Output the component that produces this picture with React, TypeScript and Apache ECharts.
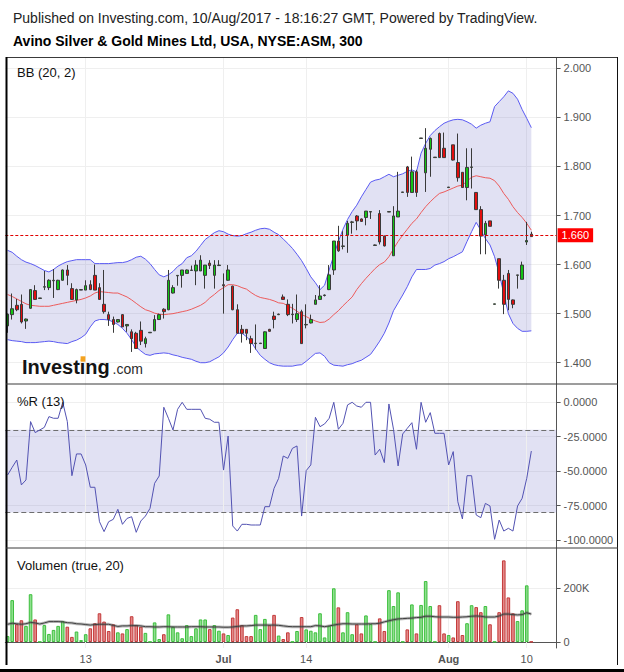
import React, { useEffect, useRef } from 'react';
import * as echarts from 'echarts';

const TITLE_LINE_1 = 'Published on Investing.com, 10/Aug/2017 - 18:16:27 GMT, Powered by TradingView.';
const TITLE_LINE_2 = 'Avino Silver & Gold Mines Ltd, USA, NYSE:ASM, 300';
const PANEL_LABELS = ['BB (20, 2)', '%R (13)', 'Volumen (true, 20)'];

const SLOT_COUNT = 120;

const candleOpen = [
  1.475, 1.498, 1.517, 1.519, 1.485, 1.511, 1.547, 1.531, 1.554, 1.553,
  1.567, 1.549, 1.568, 1.589, 1.551, 1.528, 1.548, 1.548, 1.559, 1.578,
  1.553, 1.519, 1.498, 1.488, 1.483, 1.498, 1.475, 1.463, 1.460, 1.466,
  1.439, 1.461, 1.465, 1.488, 1.509, 1.508, 1.542, 1.577, 1.578, 1.582,
  1.588, 1.587, 1.587, 1.578, 1.603, 1.578, 1.598, 1.559, 1.568, 1.556,
  1.508, 1.468, 1.468, 1.449, 1.439, 1.439, 1.429, 1.468, 1.495, 1.498,
  1.534, 1.519, 1.498, 1.488, 1.504, 1.477, 1.481, 1.519, 1.529, 1.537,
  1.549, 1.589, 1.648, 1.637, 1.660, 1.686, 1.699, 1.693, 1.696, 1.707,
  1.639, 1.704, 1.658, 1.707, 1.618, 1.697, 1.747, 1.799, 1.747, 1.789,
  1.857, 1.787, 1.835, 1.818, 1.867, 1.837, 1.757, 1.844, 1.808, 1.788,
  1.757, 1.798, 1.747, 1.712, 1.661, 1.689, 1.519, 1.612, 1.568, 1.582,
  1.528, 1.578, 1.570, 1.646, 1.662,
];
const candleClose = [
  1.499, 1.510, 1.508, 1.483, 1.489, 1.549, 1.529, 1.532, 1.555, 1.568,
  1.568, 1.568, 1.589, 1.578, 1.529, 1.549, 1.549, 1.557, 1.549, 1.548,
  1.529, 1.504, 1.488, 1.478, 1.488, 1.473, 1.478, 1.449, 1.429, 1.444,
  1.449, 1.462, 1.488, 1.498, 1.504, 1.568, 1.553, 1.578, 1.589, 1.589,
  1.589, 1.599, 1.609, 1.599, 1.598, 1.599, 1.599, 1.557, 1.589, 1.508,
  1.460, 1.460, 1.460, 1.439, 1.440, 1.440, 1.463, 1.464, 1.488, 1.499,
  1.529, 1.498, 1.499, 1.500, 1.439, 1.478, 1.488, 1.528, 1.536, 1.538,
  1.579, 1.648, 1.628, 1.638, 1.684, 1.687, 1.689, 1.688, 1.709, 1.708,
  1.640, 1.646, 1.638, 1.708, 1.699, 1.709, 1.748, 1.747, 1.789, 1.747,
  1.858, 1.837, 1.857, 1.819, 1.818, 1.818, 1.758, 1.813, 1.777, 1.757,
  1.798, 1.799, 1.712, 1.658, 1.684, 1.678, 1.520, 1.568, 1.519, 1.529,
  1.519, 1.579, 1.599, 1.649, 1.657,
];
const candleLow = [
  1.461, 1.488, 1.505, 1.480, 1.469, 1.510, 1.528, 1.530, 1.548, 1.548,
  1.532, 1.548, 1.567, 1.558, 1.528, 1.521, 1.548, 1.548, 1.548, 1.548,
  1.528, 1.500, 1.475, 1.461, 1.482, 1.473, 1.463, 1.422, 1.428, 1.436,
  1.431, 1.461, 1.465, 1.487, 1.490, 1.507, 1.541, 1.557, 1.553, 1.582,
  1.587, 1.558, 1.587, 1.551, 1.591, 1.551, 1.597, 1.500, 1.567, 1.507,
  1.460, 1.441, 1.446, 1.420, 1.427, 1.439, 1.428, 1.463, 1.470, 1.497,
  1.528, 1.495, 1.480, 1.483, 1.439, 1.470, 1.480, 1.519, 1.528, 1.535,
  1.548, 1.579, 1.626, 1.631, 1.624, 1.663, 1.670, 1.687, 1.680, 1.693,
  1.639, 1.641, 1.637, 1.707, 1.618, 1.697, 1.747, 1.738, 1.747, 1.738,
  1.857, 1.748, 1.779, 1.818, 1.818, 1.818, 1.757, 1.812, 1.769, 1.757,
  1.731, 1.755, 1.712, 1.621, 1.621, 1.678, 1.519, 1.551, 1.499, 1.507,
  1.511, 1.551, 1.570, 1.640, 1.657,
];
const candleHigh = [
  1.500, 1.541, 1.530, 1.539, 1.490, 1.550, 1.558, 1.532, 1.587, 1.570,
  1.591, 1.569, 1.590, 1.599, 1.562, 1.551, 1.550, 1.568, 1.568, 1.600,
  1.562, 1.589, 1.504, 1.494, 1.489, 1.499, 1.478, 1.468, 1.463, 1.484,
  1.453, 1.462, 1.497, 1.500, 1.511, 1.589, 1.558, 1.578, 1.589, 1.590,
  1.598, 1.609, 1.619, 1.599, 1.609, 1.609, 1.609, 1.582, 1.599, 1.557,
  1.519, 1.477, 1.468, 1.455, 1.478, 1.440, 1.464, 1.469, 1.504, 1.500,
  1.539, 1.529, 1.520, 1.539, 1.508, 1.519, 1.498, 1.538, 1.558, 1.539,
  1.599, 1.648, 1.679, 1.668, 1.689, 1.689, 1.701, 1.694, 1.709, 1.708,
  1.641, 1.711, 1.659, 1.709, 1.719, 1.789, 1.748, 1.801, 1.820, 1.793,
  1.858, 1.878, 1.859, 1.819, 1.869, 1.869, 1.758, 1.844, 1.867, 1.788,
  1.837, 1.837, 1.747, 1.719, 1.689, 1.689, 1.520, 1.612, 1.579, 1.589,
  1.529, 1.579, 1.606, 1.687, 1.667,
];

const bbUpper = [
  1.629, 1.625, 1.617, 1.610, 1.605, 1.602, 1.598, 1.593, 1.588, 1.585,
  1.590, 1.597, 1.602, 1.606, 1.608, 1.610, 1.610, 1.610, 1.610, 1.602,
  1.602, 1.602, 1.602, 1.603, 1.604, 1.604, 1.606, 1.610, 1.615, 1.617,
  1.611, 1.602, 1.590, 1.579, 1.575, 1.579, 1.586, 1.596, 1.602, 1.614,
  1.618, 1.627, 1.639, 1.651, 1.658, 1.665, 1.669, 1.667, 1.662, 1.659,
  1.658, 1.659, 1.663, 1.666, 1.670, 1.673, 1.674, 1.672, 1.666, 1.661,
  1.652, 1.643, 1.633, 1.621, 1.608, 1.592, 1.575, 1.563, 1.549, 1.558,
  1.589, 1.619, 1.647, 1.672, 1.692, 1.708, 1.721, 1.738, 1.753, 1.768,
  1.772, 1.774, 1.779, 1.784, 1.779, 1.782, 1.785, 1.790, 1.793, 1.789,
  1.827, 1.847, 1.863, 1.873, 1.881, 1.888, 1.892, 1.895, 1.896, 1.895,
  1.891, 1.886, 1.878, 1.884, 1.888, 1.891, 1.922, 1.932, 1.942, 1.954,
  1.949, 1.937, 1.916, 1.898, 1.879,
];
const bbMiddle = [
  1.539, 1.535, 1.530, 1.525, 1.520, 1.517, 1.516, 1.515, 1.515, 1.515,
  1.517, 1.519, 1.521, 1.523, 1.525, 1.527, 1.529, 1.532, 1.536, 1.542,
  1.545, 1.544, 1.543, 1.542, 1.542, 1.538, 1.534, 1.528, 1.521, 1.514,
  1.508, 1.505, 1.501, 1.499, 1.498, 1.499, 1.500, 1.502, 1.504, 1.506,
  1.509, 1.513, 1.517, 1.523, 1.532, 1.539, 1.547, 1.553, 1.559, 1.559,
  1.557, 1.553, 1.550, 1.543, 1.537, 1.533, 1.531, 1.529, 1.526, 1.522,
  1.521, 1.516, 1.511, 1.505, 1.498, 1.494, 1.489, 1.485, 1.482, 1.483,
  1.489, 1.498, 1.506, 1.516, 1.525, 1.534, 1.549, 1.561, 1.572, 1.582,
  1.592, 1.600, 1.605, 1.616, 1.632, 1.647, 1.660, 1.672, 1.684, 1.693,
  1.706, 1.718, 1.728, 1.737, 1.745, 1.748, 1.752, 1.756, 1.760, 1.762,
  1.770, 1.778, 1.781, 1.779, 1.777, 1.776, 1.771, 1.760, 1.745, 1.733,
  1.718, 1.706, 1.696, 1.684, 1.670,
];
const bbLower = [
  1.447, 1.445, 1.444, 1.443, 1.441, 1.441, 1.441, 1.442, 1.443, 1.444,
  1.443, 1.441, 1.440, 1.439, 1.443, 1.446, 1.451, 1.458, 1.473, 1.485,
  1.488, 1.488, 1.487, 1.483, 1.478, 1.470, 1.460, 1.447, 1.432, 1.424,
  1.417, 1.415, 1.418, 1.419, 1.420, 1.419, 1.416, 1.414, 1.411, 1.409,
  1.407, 1.403, 1.400, 1.400, 1.402, 1.407, 1.412, 1.420, 1.432, 1.447,
  1.460, 1.460, 1.453, 1.443, 1.428, 1.415, 1.407, 1.400, 1.396, 1.394,
  1.393, 1.393, 1.393, 1.395, 1.396, 1.403, 1.411, 1.419, 1.420, 1.413,
  1.400, 1.395, 1.394, 1.393, 1.396, 1.398, 1.402, 1.405, 1.411, 1.417,
  1.430, 1.444, 1.460, 1.481, 1.506, 1.522, 1.538, 1.555, 1.575, 1.590,
  1.590, 1.590, 1.592, 1.599, 1.602, 1.606, 1.612, 1.616, 1.621, 1.626,
  1.647, 1.667, 1.686, 1.670, 1.653, 1.640, 1.616, 1.582, 1.541, 1.500,
  1.480, 1.470, 1.464, 1.464, 1.465,
];

const williamsR = [
  -52.8, -47.2, -41.9, -60.0, -56.4, -14.0, -22.0, -20.1, -18.2, -10.4,
  -11.6, -11.6, 0, -14.0, -53.3, -37.5, -37.5, -45.5, -61.7, -61.7,
  -86.7, -93.9, -86.7, -85.0, -77.7, -88.6, -84.3, -83.1, -94.4, -86.2,
  -82.6, -77.0, -58.8, -53.5, -3.6, -11.6, -20.1, -5.1, 0, -5.1,
  -5.1, -5.1, -5.1, -11.6, -12.3, -14.5, -14.5, -49.2, -24.5, -89.8,
  -93.5, -88.6, -88.6, -89.1, -89.1, -89.1, -75.8, -75.8, -62.5, -55.2,
  -39.0, -40.7, -33.4, -31.7, -82.6, -49.6, -45.5, -10.9, -17.7, -15.7,
  -11.6, 0, -19.6, -15.3, -1.9, 0, -2.7, -3.6, 0, 0,
  -38.3, -34.1, -43.8, -1.2, -19.6, -46.2, -23.0, -18.9, -14.8, -34.1,
  0, -14.5, -7.5, -22.5, -22.5, -22.5, -45.5, -35.8, -72.2, -84.7,
  -53.3, -53.3, -81.8, -83.8, -73.4, -75.3, -99.5, -85.5, -93.5, -91.5,
  -93.5, -75.3, -69.7, -55.2, -35.4,
];

const volume = [
  22000, 156000, 67000, 81000, 60000, 178000, 84000, 1000, 63000, 30000,
  45000, 60000, 78000, 57000, 19000, 39000, 7000, 29000, 51000, 70000,
  107000, 76000, 41000, 66000, 36000, 32000, 48000, 96000, 63000, 57000,
  34000, 1000, 73000, 11000, 29000, 103000, 57000, 36000, 14000, 63000,
  22000, 51000, 84000, 84000, 48000, 63000, 42000, 32000, 26000, 91000,
  122000, 63000, 22000, 22000, 101000, 48000, 86000, 63000, 101000, 24000,
  11000, 36000, 1000, 41000, 93000, 47000, 42000, 36000, 107000, 17000,
  60000, 200000, 129000, 36000, 111000, 29000, 66000, 32000, 99000, 67000,
  1000, 88000, 41000, 193000, 134000, 185000, 1000, 47000, 140000, 32000,
  138000, 227000, 134000, 1000, 137000, 32000, 26000, 17000, 152000, 26000,
  70000, 137000, 130000, 111000, 134000, 66000, 1000, 111000, 304000, 166000,
  107000, 78000, 118000, 211000, 1000,
];
const volumeMA = [
  66000, 70000, 68000, 66000, 68000, 73000, 71000, 67000, 71000, 76000,
  76000, 76000, 75000, 72000, 71000, 68000, 67000, 65000, 63000, 65000,
  66000, 66000, 66000, 62000, 58000, 60000, 60000, 61000, 61000, 60000,
  57000, 57000, 56000, 56000, 57000, 57000, 56000, 56000, 56000, 56000,
  57000, 57000, 57000, 56000, 56000, 56000, 56000, 55000, 55000, 56000,
  58000, 60000, 60000, 61000, 63000, 63000, 63000, 63000, 63000, 62000,
  60000, 58000, 57000, 57000, 57000, 57000, 57000, 61000, 60000, 57000,
  60000, 63000, 66000, 68000, 68000, 67000, 67000, 67000, 67000, 68000,
  68000, 70000, 75000, 79000, 83000, 86000, 87000, 88000, 89000, 91000,
  92000, 96000, 96000, 94000, 93000, 93000, 93000, 92000, 92000, 93000,
  94000, 96000, 97000, 96000, 93000, 93000, 93000, 97000, 104000, 104000,
  102000, 101000, 102000, 109000, 104000,
];

const dateTickIndex = [17, 47, 65, 96, 113];
const dateTickText = ['13', 'Jul', '14', 'Aug', '10'];
const monthTickText = ['Jul', 'Aug'];
const priceTicks = [1.4, 1.5, 1.6, 1.7, 1.8, 1.9, 2.0];
const pctRTicks = [-100, -75, -50, -25, 0];
const volumeTicks = [0, 200000];
const pctRBand = [-20, -80];
const lastPrice = 1.66;

const PRICE_RANGE = [1.35663, 2.022];
const PCTR_RANGE = [-105.8, 13.29];
const VOLUME_RANGE = [-22350, 350100];

const FONT = '"Liberation Sans", Arial, Helvetica, sans-serif';
const AXIS_COLOR = '#555555';
const LABEL_COLOR = '#555555';
const GRID_COLOR = '#efefef';
const BAND_FILL = 'rgba(120,120,200,0.22)';

export default function App() {
  const ref = useRef<HTMLDivElement>(null);

  useEffect(() => {
    if (!ref.current) return;
    const chart = echarts.init(ref.current, undefined, { renderer: 'svg' });

    const categories = Array.from({ length: SLOT_COUNT }, (_, i) => String(i));
    const isDateTick = (i: number) => dateTickIndex.indexOf(Number(i)) >= 0;
    const candleData = candleOpen.map((o, i) => [o, candleClose[i], candleLow[i], candleHigh[i]]);
    const bbSpread = bbUpper.map((u, i) => +(u - bbLower[i]).toFixed(4));
    const volumeData = volume.map((v, i) => {
      const up = candleClose[i] >= candleOpen[i];
      return {
        value: v,
        itemStyle: {
          color: up ? 'rgba(20,190,20,0.48)' : 'rgba(200,20,20,0.5)',
          borderColor: up ? '#3cbf3c' : '#c43a3a',
        },
      };
    });
    const onTick = (ticks: number[]) => (v: number) => ticks.some((t) => Math.abs(t - v) < 1e-6);

    const gridMarkLine = {
      silent: true,
      z: 1,
      symbol: ['none', 'none'],
      label: { show: false },
      lineStyle: { color: GRID_COLOR, type: 'solid', width: 1 },
      emphasis: { disabled: true },
      data: dateTickIndex.map((i) => ({ xAxis: i })),
    };

    const grids = [
      { left: 5.3, right: 67.4, top: 57.5, height: 326.5 },
      { left: 5.3, right: 67.4, top: 384, height: 164 },
      { left: 5.3, right: 67.4, top: 548, height: 100 },
    ].map((g) => ({ ...g, containLabel: false, outerBoundsMode: 'none', show: false }));

    const hiddenX = (gridIndex: number) => ({
      type: 'category',
      gridIndex,
      data: categories,
      boundaryGap: true,
      axisLine: { show: false },
      axisTick: { show: false },
      axisLabel: { show: false },
      splitLine: { show: false },
    });

    const valueAxis = (gridIndex: number, range: number[], ticks: number[], interval: number, fmt: (v: number) => string) => {
      const ok = onTick(ticks);
      return {
        type: 'value',
        gridIndex,
        position: 'right',
        min: range[0],
        max: range[1],
        splitNumber: Math.round((range[1] - range[0]) / interval),
        minInterval: interval,
        maxInterval: interval,
        axisLine: { show: true, onZero: false, lineStyle: { color: AXIS_COLOR, width: 1 } },
        axisTick: { show: true, length: 4, lineStyle: { color: AXIS_COLOR }, customValues: ticks },
        axisLabel: {
          show: true,
          customValues: ticks,
          color: LABEL_COLOR,
          fontSize: 11,
          fontFamily: FONT,
          margin: 7,
          formatter: (v: number) => (ok(v) ? fmt(v) : ''),
        },
        splitLine: { show: true, lineStyle: { color: GRID_COLOR, width: 1 } },
      };
    };

    const textEl = (text: string, x: number, y: number, font: string, fill: string) => ({
      type: 'text',
      x,
      y,
      z: 20,
      silent: true,
      style: { text, font, fill, verticalAlign: 'middle', textVerticalAlign: 'middle', align: 'left', textAlign: 'left' },
    });
    const lineEl = (x1: number, y1: number, x2: number, y2: number, stroke: string, lineWidth: number) => ({
      type: 'line',
      z: 20,
      silent: true,
      shape: { x1, y1, x2, y2 },
      style: { stroke, lineWidth },
    });

    const option: any = {
      animation: false,
      backgroundColor: '#ffffff',
      grid: grids,
      xAxis: [
        hiddenX(0),
        hiddenX(1),
        {
          type: 'category',
          gridIndex: 2,
          data: categories,
          boundaryGap: true,
          axisLine: { show: true, lineStyle: { color: AXIS_COLOR, width: 1 } },
          axisTick: { show: true, alignWithLabel: true, interval: (i: number) => isDateTick(i), length: 4, lineStyle: { color: AXIS_COLOR } },
          axisLabel: {
            show: true,
            interval: (i: number) => isDateTick(i),
            color: LABEL_COLOR,
            fontSize: 11,
            fontFamily: FONT,
            margin: 5,
            formatter: (v: string) => {
              const k = dateTickIndex.indexOf(Number(v));
              if (k < 0) return '';
              const t = dateTickText[k];
              return monthTickText.indexOf(t) >= 0 ? `{m|${t}}` : t;
            },
            rich: { m: { fontWeight: 'bold', fontSize: 11, color: LABEL_COLOR, fontFamily: FONT } },
          },
          splitLine: { show: false },
        },
      ],
      yAxis: [
        valueAxis(0, PRICE_RANGE, priceTicks, 0.1, (v) => v.toFixed(3)),
        valueAxis(1, PCTR_RANGE, pctRTicks, 25, (v) => v.toFixed(4)),
        valueAxis(2, VOLUME_RANGE, volumeTicks, 200000, (v) => (v === 0 ? '0' : `${Math.round(v / 1000)}K`)),
      ],
      series: [
        { type: 'line', xAxisIndex: 0, yAxisIndex: 0, data: [], symbol: 'none', silent: true, markLine: gridMarkLine },
        { type: 'line', xAxisIndex: 1, yAxisIndex: 1, data: [], symbol: 'none', silent: true, markLine: gridMarkLine },
        { type: 'line', xAxisIndex: 2, yAxisIndex: 2, data: [], symbol: 'none', silent: true, markLine: gridMarkLine },
        {
          name: 'bbBase', type: 'line', xAxisIndex: 0, yAxisIndex: 0, data: bbLower, stack: 'bb',
          symbol: 'none', silent: true, lineStyle: { opacity: 0 }, z: 2,
        },
        {
          name: 'bbFill', type: 'line', xAxisIndex: 0, yAxisIndex: 0, data: bbSpread, stack: 'bb',
          symbol: 'none', silent: true, lineStyle: { opacity: 0 }, areaStyle: { color: BAND_FILL, opacity: 1 }, z: 2,
        },
        { name: 'upper', type: 'line', xAxisIndex: 0, yAxisIndex: 0, data: bbUpper, symbol: 'none', silent: true, lineStyle: { color: '#5a5af2', width: 1 }, z: 3 },
        { name: 'lower', type: 'line', xAxisIndex: 0, yAxisIndex: 0, data: bbLower, symbol: 'none', silent: true, lineStyle: { color: '#5a5af2', width: 1 }, z: 3 },
        { name: 'basis', type: 'line', xAxisIndex: 0, yAxisIndex: 0, data: bbMiddle, symbol: 'none', silent: true, lineStyle: { color: '#ec5b5b', width: 1 }, z: 3 },
        {
          name: 'ASM', type: 'candlestick', xAxisIndex: 0, yAxisIndex: 0, data: candleData, barWidth: 3, z: 4, clip: false, silent: true,
          itemStyle: { color: '#14c414', color0: '#e20e0e', borderColor: '#3a3a3a', borderColor0: '#3a3a3a', borderWidth: 1 },
          markLine: {
            silent: true,
            z: 6,
            symbol: ['none', 'none'],
            data: [{ yAxis: lastPrice }],
            lineStyle: { color: '#e00000', type: [3, 2], width: 1 },
            label: {
              show: true, position: 'end', distance: 1, formatter: lastPrice.toFixed(3),
              color: '#ffffff', backgroundColor: '#ff0000', padding: [2, 4, 1, 4], fontSize: 11, fontFamily: FONT,
            },
            emphasis: { disabled: true },
          },
        },
        {
          name: '%R', type: 'line', xAxisIndex: 1, yAxisIndex: 1, data: williamsR, symbol: 'none', silent: true,
          lineStyle: { color: '#5252b2', width: 1 }, z: 4,
          markArea: { silent: true, z: 1, itemStyle: { color: BAND_FILL }, data: [[{ yAxis: pctRBand[0] }, { yAxis: pctRBand[1] }]] },
          markLine: {
            silent: true, z: 3, symbol: ['none', 'none'], label: { show: false },
            lineStyle: { color: '#6e6e6e', type: [5, 3], width: 1 },
            emphasis: { disabled: true },
            data: pctRBand.map((v) => ({ yAxis: v })),
          },
        },
        { name: 'Volume', type: 'bar', xAxisIndex: 2, yAxisIndex: 2, data: volumeData, barWidth: 3.6, silent: true, z: 2, itemStyle: { borderWidth: 1 } },
        { name: 'VolMAglow', type: 'line', xAxisIndex: 2, yAxisIndex: 2, data: volumeMA, symbol: 'none', silent: true, lineStyle: { color: 'rgba(80,80,80,0.4)', width: 3 }, z: 3 },
        { name: 'VolMA', type: 'line', xAxisIndex: 2, yAxisIndex: 2, data: volumeMA, symbol: 'none', silent: true, lineStyle: { color: '#404040', width: 1 }, z: 4 },
      ],
      graphic: [
        textEl(TITLE_LINE_1, 13, 17.5, `14px ${FONT}`, '#222222'),
        textEl(TITLE_LINE_2, 13, 40.5, `bold 14px ${FONT}`, '#000000'),
        textEl(PANEL_LABELS[0], 17, 72, `13px ${FONT}`, '#111111'),
        textEl(PANEL_LABELS[1], 17, 401, `13px ${FONT}`, '#111111'),
        textEl(PANEL_LABELS[2], 17, 565, `13px ${FONT}`, '#111111'),
        textEl('Investing', 22, 367, `bold 20px ${FONT}`, '#141414'),
        textEl('.com', 112.5, 369, `14px ${FONT}`, '#2a2a2a'),
        { type: 'rect', z: 21, silent: true, shape: { x: 80.6, y: 356.3, width: 4.8, height: 5.4 }, style: { fill: '#f4a21f' } },
        lineEl(6, 57.5, 618, 57.5, '#3a3a3a', 1),
        lineEl(6.5, 57, 6.5, 665, '#000000', 2),
        lineEl(617.5, 57, 617.5, 665, '#111111', 1),
        lineEl(6, 384, 618, 384, '#3a3a3a', 1),
        lineEl(6, 548, 618, 548, '#3a3a3a', 1),
        { type: 'rect', z: 21, silent: true, shape: { x: 0, y: 669, width: 624, height: 3 }, style: { fill: '#000000' } },
      ],
    };

    chart.setOption(option);
    return () => chart.dispose();
  }, []);

  return <div ref={ref} style={{ position: 'fixed', left: 0, top: 0, width: 624, height: 672, background: '#ffffff' }} />;
}
